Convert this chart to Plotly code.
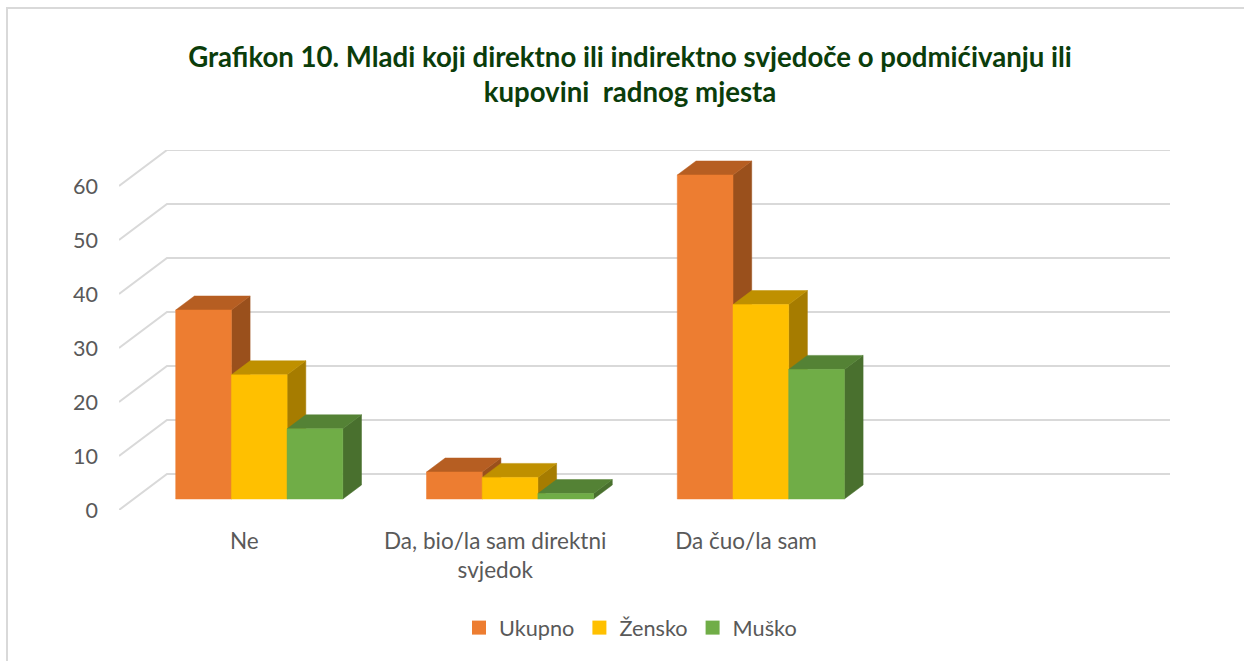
import plotly.graph_objects as go

categories = ["Ne", "Da, bio/la sam direktni<br>svjedok", "Da čuo/la sam", ""]
ukupno = [35, 5, 60]
zensko = [23, 4, 36]
musko = [13, 1, 24]
axis_ticks = [0, 10, 20, 30, 40, 50, 60]
title_text = "Grafikon 10. Mladi koji direktno ili indirektno svjedoče o podmićivanju ili<br>kupovini  radnog mjesta"

W, H = 1244, 661
L, R, T, B = 119, 1170, 150, 510      # plot area in page pixels
PX_PER_CAT = 250.8
PX_PER_UNIT = 5.4

X_MAX = (R - L) / PX_PER_CAT
Y_MAX = (B - T) / PX_PER_UNIT
WALL_DX, WALL_DY = 48 / PX_PER_CAT, 36 / PX_PER_UNIT
BAR_DX, BAR_DY = 18.7 / PX_PER_CAT, 14 / PX_PER_UNIT
BAR_W = 55.7 / PX_PER_CAT
BAR_LIFT = 11 / PX_PER_UNIT
GROUP_START = 56.7 / PX_PER_CAT

series = [
    ("Ukupno", ukupno, "#ED7D31", "#B65E22", "#9A501C"),
    ("Žensko", zensko, "#FFC000", "#BF9000", "#A67C00"),
    ("Muško", musko, "#70AD47", "#548235", "#49702E"),
]

fig = go.Figure()

# walls: gridlines run from the front axis to the back wall, then across
gx, gy = [], []
for t in axis_ticks:
    gx += [0, WALL_DX, X_MAX, None]
    gy += [t, t + WALL_DY, t + WALL_DY, None]
fig.add_trace(go.Scatter(x=gx, y=gy, mode="lines", line=dict(color="#D9D9D9", width=2),
                         showlegend=False, hoverinfo="skip", cliponaxis=False))


def polys(shapes):
    xs, ys = [], []
    for sx, sy in shapes:
        xs += sx + [sx[0], None]
        ys += sy + [sy[0], None]
    return xs, ys


for s, (name, vals, front, top, side) in enumerate(series):
    fr, tp, sd = [], [], []
    for c, v in enumerate(vals):
        x0 = c + GROUP_START + s * BAR_W
        x1 = x0 + BAR_W
        y0 = BAR_LIFT
        y1 = BAR_LIFT + v
        fr.append(([x0, x1, x1, x0], [y0, y0, y1, y1]))
        tp.append(([x0, x1, x1 + BAR_DX, x0 + BAR_DX], [y1, y1, y1 + BAR_DY, y1 + BAR_DY]))
        sd.append(([x1, x1 + BAR_DX, x1 + BAR_DX, x1], [y0, y0 + BAR_DY, y1 + BAR_DY, y1]))
    for shapes, col in ((sd, side), (tp, top), (fr, front)):
        xs, ys = polys(shapes)
        fig.add_trace(go.Scatter(x=xs, y=ys, mode="lines", fill="toself", fillcolor=col,
                                 line=dict(color=col, width=0.5), legendgroup=name,
                                 showlegend=False, hoverinfo="skip", cliponaxis=False))
    fig.add_trace(go.Scatter(x=[None], y=[None], mode="markers", name=name, legendgroup=name,
                             marker=dict(symbol="square", size=14, color=front, line=dict(width=0))))

fig.update_layout(
    width=W, height=H, autosize=False,
    margin=dict(l=L, r=W - R, t=T, b=H - B),
    paper_bgcolor="white", plot_bgcolor="rgba(0,0,0,0)",
    font=dict(family="Lato", color="#595959", size=22),
    title=dict(text=title_text,
               font=dict(family="Lato", size=27.6, color="#0B3D0B", weight="bold"),
               xref="container", x=630 / W, xanchor="center",
               yref="container", y=1 - 66.5 / H, yanchor="middle"),
    xaxis=dict(range=[0, X_MAX], tickvals=[i + 0.5 for i in range(len(categories))], ticktext=categories,
               showgrid=False, zeroline=False, showline=False, ticks="", ticklabelstandoff=15,
               tickangle=0, fixedrange=True, tickfont=dict(size=22.5)),
    yaxis=dict(range=[0, Y_MAX], tickvals=axis_ticks, showgrid=False, zeroline=False, showline=False,
               ticks="", ticklabelstandoff=20, fixedrange=True, tickfont=dict(size=21.5)),
    legend=dict(orientation="h", x=459 / W, xanchor="left", xref="container",
                y=1 - 628 / H, yanchor="middle", yref="container",
                itemclick=False, itemdoubleclick=False,
                font=dict(size=21.7, color="#595959"), bgcolor="rgba(0,0,0,0)"),
    shapes=[dict(type="rect", xref="paper", yref="paper", layer="below",
                 x0=(7 - L) / (R - L), x1=(W + 10 - L) / (R - L),
                 y0=(B - (H + 10)) / (B - T), y1=(B - 8) / (B - T),
                 line=dict(color="#D9D9D9", width=2))],
)

fig.write_html("out.html", config={"displayModeBar": False},
               post_script="document.body.style.margin='0';document.body.style.overflow='hidden';")
